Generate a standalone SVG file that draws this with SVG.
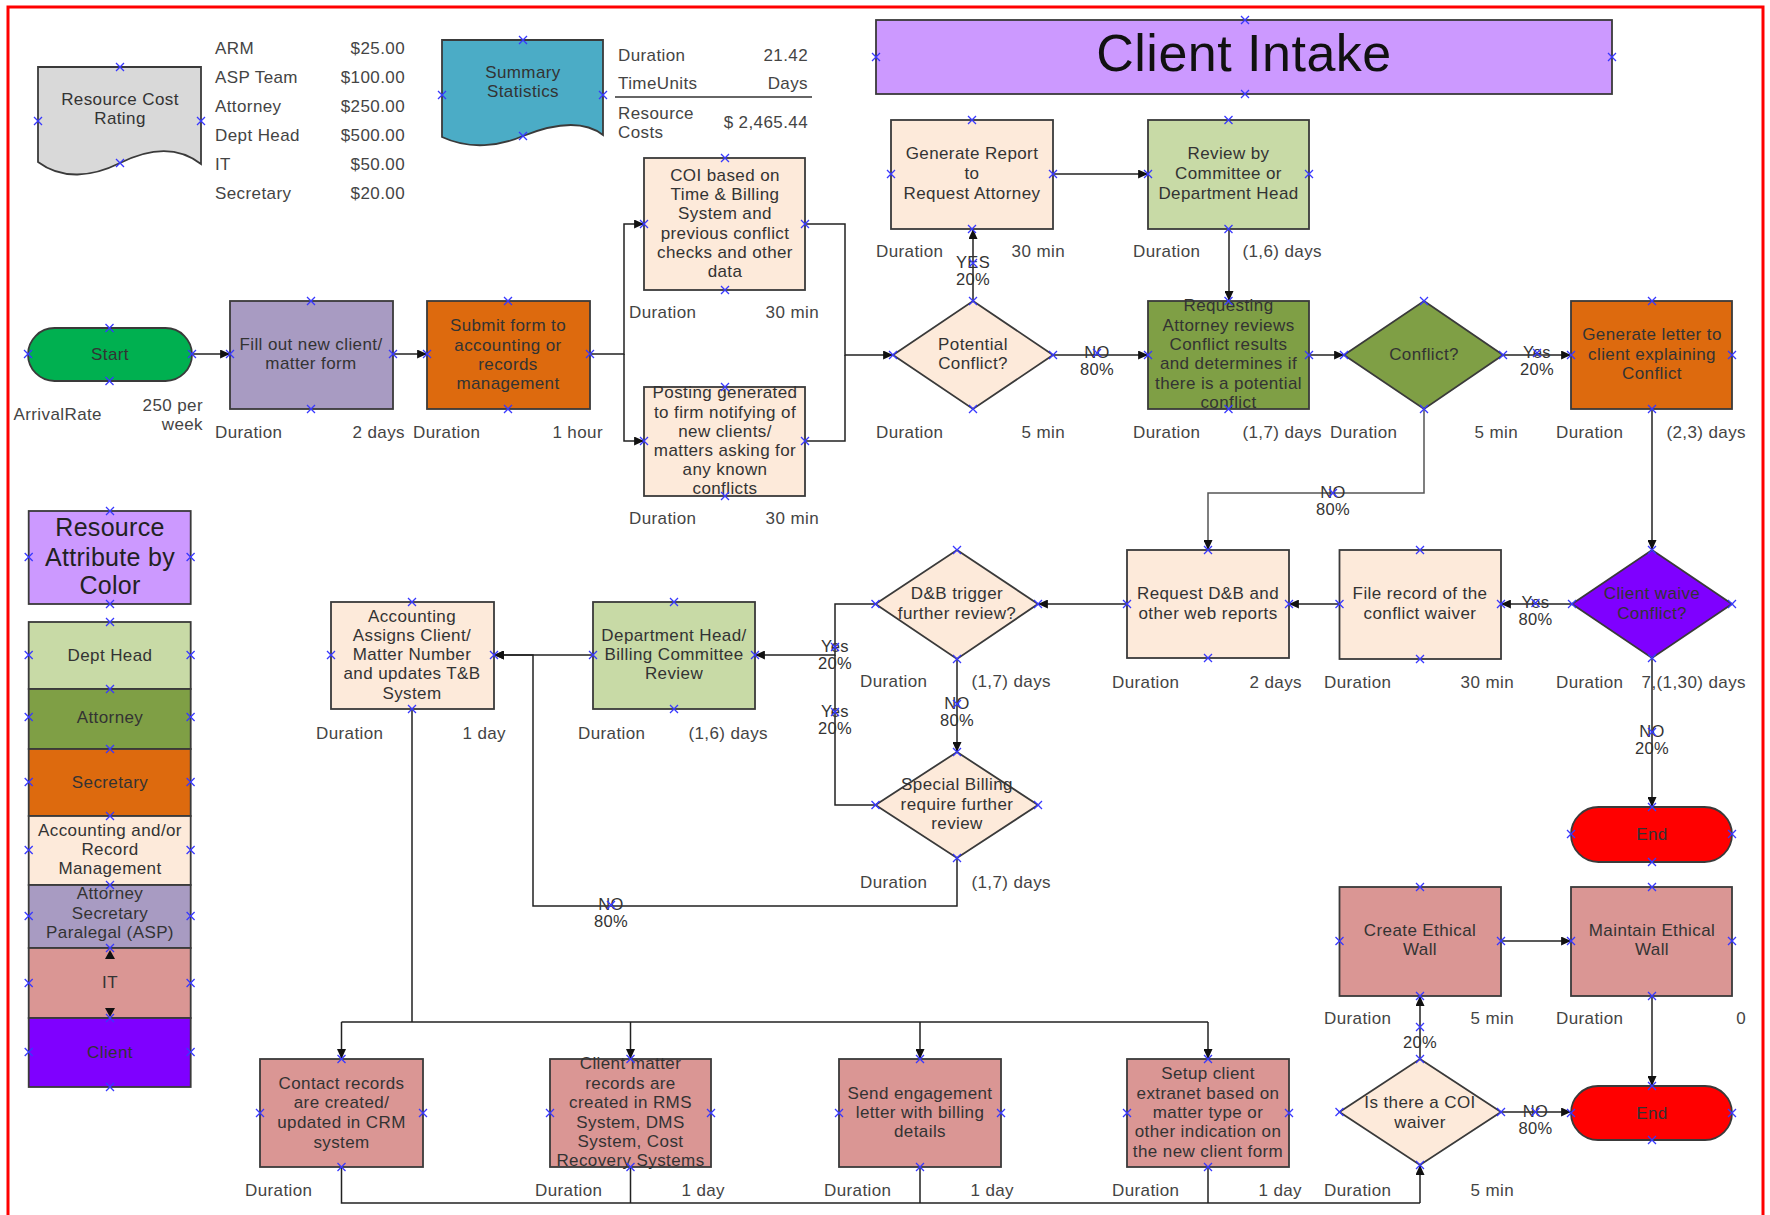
<svg xmlns="http://www.w3.org/2000/svg" xmlns:xlink="http://www.w3.org/1999/xlink" width="1770" height="1215" viewBox="0 0 1770 1215">
<defs>
<style>
.n{stroke:#3a3a3a;stroke-width:1.8}
.t{font-family:"Liberation Sans",Arial,sans-serif;font-size:17px;fill:#333;text-anchor:middle;letter-spacing:0.4px}
.l{font-family:"Liberation Sans",Arial,sans-serif;font-size:17px;fill:#444;letter-spacing:0.4px}
.r{text-anchor:end}
.big{font-size:25px;letter-spacing:0.3px;fill:#222}
.cl{font-size:16.5px;letter-spacing:0.3px}
.c{fill:none;stroke:#222;stroke-width:1.5}
.a{marker-end:url(#ah)}
.mk{fill:none;stroke:#3838ff;stroke-width:1.3}
</style>
<marker id="ah" viewBox="0 0 11 10" refX="11" refY="5" markerWidth="11" markerHeight="9" markerUnits="userSpaceOnUse" orient="auto"><path d="M0,0L11,5L0,10z" fill="#111"/></marker>
<g id="x"><path class="mk" d="M-4,-4L4,4M-4,4L4,-4"/></g>
</defs>
<rect x="0" y="0" width="1770" height="1215" fill="#fff"/>
<rect x="8" y="7" width="1755" height="1220" fill="none" stroke="#ff0000" stroke-width="3"/>

<g id="title">
<rect class="n" x="876" y="20" width="736" height="74" fill="#CC99FF"/>
<text class="t" x="1244" y="71" style="font-size:52px;letter-spacing:0.5px;fill:#111">Client Intake</text>
</g>

<g id="resource-cost-rating">
<path class="n" fill="#D9D9D9" d="M38,67H201V164C178,146 150,148 120,163C92,177 62,180 38,162Z"/>
<text class="t"><tspan x="120" y="105">Resource Cost</tspan><tspan x="120" y="124">Rating</tspan></text>
</g>

<g id="cost-table">
<text class="l" x="215" y="53.5">ARM</text><text class="l r" x="405" y="53.5">$25.00</text>
<text class="l" x="215" y="82.5">ASP Team</text><text class="l r" x="405" y="82.5">$100.00</text>
<text class="l" x="215" y="111.5">Attorney</text><text class="l r" x="405" y="111.5">$250.00</text>
<text class="l" x="215" y="140.5">Dept Head</text><text class="l r" x="405" y="140.5">$500.00</text>
<text class="l" x="215" y="169.5">IT</text><text class="l r" x="405" y="169.5">$50.00</text>
<text class="l" x="215" y="198.5">Secretary</text><text class="l r" x="405" y="198.5">$20.00</text>
</g>

<g id="summary-statistics">
<path class="n" fill="#4BACC6" d="M442,40H603V135C585,121 558,122 523,136C500,146 470,150 442,137Z"/>
<text class="t"><tspan x="523" y="78">Summary</tspan><tspan x="523" y="97">Statistics</tspan></text>
</g>

<g id="summary-table">
<text class="l" x="618" y="61">Duration</text><text class="l r" x="808" y="61">21.42</text>
<text class="l" x="618" y="89">TimeUnits</text><text class="l r" x="808" y="89">Days</text>
<line x1="615" y1="97" x2="812" y2="97" stroke="#333" stroke-width="1.5"/>
<text class="l"><tspan x="618" y="119">Resource</tspan><tspan x="618" y="138">Costs</tspan></text>
<text class="l r" x="808" y="128">$ 2,465.44</text>
</g>

<g id="start">
<rect class="n" x="28" y="328" width="164" height="53" rx="26.5" fill="#00B050"/>
<text class="t" x="110" y="360">Start</text>
<text class="l" x="13.5" y="420">ArrivalRate</text>
<text class="l r"><tspan x="203" y="411">250 per</tspan><tspan x="203" y="430">week</tspan></text>
</g>

<g id="fill-out-form">
<rect class="n" x="230" y="301" width="163" height="108" fill="#A89BC2"/>
<text class="t"><tspan x="311" y="350">Fill out new client/</tspan><tspan x="311" y="369">matter form</tspan></text>
<text class="l" x="215" y="438">Duration</text><text class="l r" x="405" y="438">2 days</text>
</g>

<g id="submit-form">
<rect class="n" x="427" y="301" width="163" height="108" fill="#DD6A0E"/>
<text class="t"><tspan x="508" y="331">Submit form to</tspan><tspan x="508" y="351">accounting or</tspan><tspan x="508" y="370">records</tspan><tspan x="508" y="389">management</tspan></text>
<text class="l" x="413" y="438">Duration</text><text class="l r" x="603" y="438">1 hour</text>
</g>

<g id="coi-based">
<rect class="n" x="644" y="158" width="161" height="132" fill="#FDEADA"/>
<text class="t"><tspan x="725" y="181">COI based on</tspan><tspan x="725" y="200">Time &amp; Billing</tspan><tspan x="725" y="219">System and</tspan><tspan x="725" y="239">previous conflict</tspan><tspan x="725" y="258">checks and other</tspan><tspan x="725" y="277">data</tspan></text>
<text class="l" x="629" y="318">Duration</text><text class="l r" x="819" y="318">30 min</text>
</g>

<g id="posting-generated">
<rect class="n" x="644" y="387" width="161" height="109" fill="#FDEADA"/>
<text class="t"><tspan x="725" y="398">Posting generated</tspan><tspan x="725" y="418">to firm notifying of</tspan><tspan x="725" y="437">new clients/</tspan><tspan x="725" y="456">matters asking for</tspan><tspan x="725" y="475">any known</tspan><tspan x="725" y="494">conflicts</tspan></text>
<text class="l" x="629" y="524">Duration</text><text class="l r" x="819" y="524">30 min</text>
</g>

<g id="generate-report">
<rect class="n" x="891" y="120" width="162" height="109" fill="#FDEADA"/>
<text class="t"><tspan x="972" y="159">Generate Report</tspan><tspan x="972" y="179">to</tspan><tspan x="972" y="199">Request Attorney</tspan></text>
<text class="l" x="876" y="257">Duration</text><text class="l r" x="1065" y="257">30 min</text>
</g>

<g id="potential-conflict">
<polygon class="n" points="973,301 1053,355 973,409 893,355" fill="#FDEADA"/>
<text class="t"><tspan x="973" y="350">Potential</tspan><tspan x="973" y="369">Conflict?</tspan></text>
<text class="l" x="876" y="438">Duration</text><text class="l r" x="1065" y="438">5 min</text>
</g>

<g id="review-committee">
<rect class="n" x="1148" y="120" width="161" height="109" fill="#C8DAA6"/>
<text class="t"><tspan x="1228.5" y="159">Review by</tspan><tspan x="1228.5" y="179">Committee or</tspan><tspan x="1228.5" y="199">Department Head</tspan></text>
<text class="l" x="1133" y="257">Duration</text><text class="l r" x="1322" y="257">(1,6) days</text>
</g>

<g id="requesting-attorney">
<rect class="n" x="1148" y="301" width="161" height="108" fill="#7F9F45"/>
<text class="t"><tspan x="1228.5" y="311">Requesting</tspan><tspan x="1228.5" y="331">Attorney reviews</tspan><tspan x="1228.5" y="350">Conflict  results</tspan><tspan x="1228.5" y="369">and determines if</tspan><tspan x="1228.5" y="389">there is a potential</tspan><tspan x="1228.5" y="408">conflict</tspan></text>
<text class="l" x="1133" y="438">Duration</text><text class="l r" x="1322" y="438">(1,7) days</text>
</g>

<g id="conflict">
<polygon class="n" points="1424,301 1503,355 1424,409 1344,355" fill="#7F9F45"/>
<text class="t" x="1424" y="360">Conflict?</text>
<text class="l" x="1330" y="438">Duration</text><text class="l r" x="1518" y="438">5 min</text>
</g>

<g id="generate-letter">
<rect class="n" x="1571" y="301" width="161" height="108" fill="#DD6A0E"/>
<text class="t"><tspan x="1652" y="340">Generate letter to</tspan><tspan x="1652" y="360">client explaining</tspan><tspan x="1652" y="379">Conflict</tspan></text>
<text class="l" x="1556" y="438">Duration</text><text class="l r" x="1746" y="438">(2,3) days</text>
</g>

<g id="client-waive">
<polygon class="n" points="1652,550 1732,604 1652,658 1572,604" fill="#7F00FF"/>
<text class="t"><tspan x="1652" y="599">Client waive</tspan><tspan x="1652" y="619">Conflict?</tspan></text>
<text class="l" x="1556" y="688">Duration</text><text class="l r" x="1746" y="688">7,(1,30) days</text>
</g>

<g id="file-record">
<rect class="n" x="1339.5" y="550" width="161.5" height="109" fill="#FDEADA"/>
<text class="t"><tspan x="1420" y="599">File record of the</tspan><tspan x="1420" y="619">conflict waiver</tspan></text>
<text class="l" x="1324" y="688">Duration</text><text class="l r" x="1514" y="688">30 min</text>
</g>

<g id="request-db">
<rect class="n" x="1127" y="550" width="162" height="108" fill="#FDEADA"/>
<text class="t"><tspan x="1208" y="599">Request D&amp;B and</tspan><tspan x="1208" y="619">other web reports</tspan></text>
<text class="l" x="1112" y="688">Duration</text><text class="l r" x="1302" y="688">2 days</text>
</g>

<g id="db-trigger">
<polygon class="n" points="957,550 1038,604 957,659 875.5,604" fill="#FDEADA"/>
<text class="t"><tspan x="957" y="599">D&amp;B trigger</tspan><tspan x="957" y="619">further review?</tspan></text>
<text class="l" x="860" y="687">Duration</text><text class="l r" x="1051" y="687">(1,7) days</text>
</g>

<g id="special-billing">
<polygon class="n" points="957,752 1038,805 957,858 875.5,805" fill="#FDEADA"/>
<text class="t"><tspan x="957" y="790">Special Billing</tspan><tspan x="957" y="810">require further</tspan><tspan x="957" y="829">review</tspan></text>
<text class="l" x="860" y="888">Duration</text><text class="l r" x="1051" y="888">(1,7) days</text>
</g>

<g id="dept-head-review">
<rect class="n" x="593" y="602" width="162" height="107" fill="#C8DAA6"/>
<text class="t"><tspan x="674" y="641">Department Head/</tspan><tspan x="674" y="660">Billing Committee</tspan><tspan x="674" y="679">Review</tspan></text>
<text class="l" x="578" y="739">Duration</text><text class="l r" x="768" y="739">(1,6) days</text>
</g>

<g id="accounting-assigns">
<rect class="n" x="331" y="602" width="163" height="107" fill="#FDEADA"/>
<text class="t"><tspan x="412" y="622">Accounting</tspan><tspan x="412" y="641">Assigns Client/</tspan><tspan x="412" y="660">Matter Number</tspan><tspan x="412" y="679">and updates T&amp;B</tspan><tspan x="412" y="699">System</tspan></text>
<text class="l" x="316" y="739">Duration</text><text class="l r" x="506" y="739">1 day</text>
</g>

<g id="contact-records">
<rect class="n" x="260" y="1059" width="163" height="108" fill="#DA9694"/>
<text class="t"><tspan x="341.5" y="1089">Contact records</tspan><tspan x="341.5" y="1108">are created/</tspan><tspan x="341.5" y="1128">updated in CRM</tspan><tspan x="341.5" y="1148">system</tspan></text>
<text class="l" x="245" y="1196">Duration</text>
</g>

<g id="client-matter-records">
<rect class="n" x="550" y="1059" width="161" height="108" fill="#DA9694"/>
<text class="t"><tspan x="630.5" y="1069">Client matter</tspan><tspan x="630.5" y="1089">records are</tspan><tspan x="630.5" y="1108">created in RMS</tspan><tspan x="630.5" y="1128">System, DMS</tspan><tspan x="630.5" y="1147">System, Cost</tspan><tspan x="630.5" y="1166">Recovery Systems</tspan></text>
<text class="l" x="535" y="1196">Duration</text><text class="l r" x="725" y="1196">1 day</text>
</g>

<g id="send-engagement">
<rect class="n" x="839" y="1059" width="162" height="108" fill="#DA9694"/>
<text class="t"><tspan x="920" y="1099">Send engagement</tspan><tspan x="920" y="1118">letter with billing</tspan><tspan x="920" y="1137">details</tspan></text>
<text class="l" x="824" y="1196">Duration</text><text class="l r" x="1014" y="1196">1 day</text>
</g>

<g id="setup-extranet">
<rect class="n" x="1127" y="1059" width="162" height="108" fill="#DA9694"/>
<text class="t"><tspan x="1208" y="1079">Setup client</tspan><tspan x="1208" y="1099">extranet based on</tspan><tspan x="1208" y="1118">matter type or</tspan><tspan x="1208" y="1137">other indication on</tspan><tspan x="1208" y="1157">the new client form</tspan></text>
<text class="l" x="1112" y="1196">Duration</text><text class="l r" x="1302" y="1196">1 day</text>
</g>

<g id="coi-waiver">
<polygon class="n" points="1420,1059 1501,1112 1420,1165 1339.5,1112" fill="#FDEADA"/>
<text class="t"><tspan x="1420" y="1108">Is there a COI</tspan><tspan x="1420" y="1128">waiver</tspan></text>
<text class="l" x="1324" y="1196">Duration</text><text class="l r" x="1514" y="1196">5 min</text>
</g>

<g id="create-ethical-wall">
<rect class="n" x="1339.5" y="887" width="161.5" height="109" fill="#DA9694"/>
<text class="t"><tspan x="1420" y="936">Create Ethical</tspan><tspan x="1420" y="955">Wall</tspan></text>
<text class="l" x="1324" y="1024">Duration</text><text class="l r" x="1514" y="1024">5 min</text>
</g>

<g id="maintain-ethical-wall">
<rect class="n" x="1571" y="887" width="161" height="109" fill="#DA9694"/>
<text class="t"><tspan x="1652" y="936">Maintain Ethical</tspan><tspan x="1652" y="955">Wall</tspan></text>
<text class="l" x="1556" y="1024">Duration</text><text class="l r" x="1746" y="1024">0</text>
</g>

<g id="end-upper">
<rect class="n" x="1571" y="807" width="161" height="55" rx="27.5" fill="#FF0000"/>
<text class="t" x="1652" y="840">End</text>
</g>

<g id="end-lower">
<rect class="n" x="1571" y="1086" width="161" height="54" rx="27" fill="#FF0000"/>
<text class="t" x="1652" y="1119">End</text>
</g>

<g id="legend">
<rect class="n" x="28.7" y="511" width="162" height="93" fill="#CC99FF"/>
<text class="t big"><tspan x="110" y="536">Resource</tspan><tspan x="110" y="566">Attribute by</tspan><tspan x="110" y="594">Color</tspan></text>
<rect class="n" x="28.7" y="622" width="162" height="67" fill="#C8DAA6"/>
<text class="t" x="110" y="661">Dept Head</text>
<rect class="n" x="28.7" y="689" width="162" height="60" fill="#7F9F45"/>
<text class="t" x="110" y="723">Attorney</text>
<rect class="n" x="28.7" y="749" width="162" height="67" fill="#DD6A0E"/>
<text class="t" x="110" y="788">Secretary</text>
<rect class="n" x="28.7" y="816" width="162" height="69" fill="#FDEADA"/>
<text class="t"><tspan x="110" y="836">Accounting and/or</tspan><tspan x="110" y="855">Record</tspan><tspan x="110" y="874">Management</tspan></text>
<rect class="n" x="28.7" y="885" width="162" height="63" fill="#A89BC2"/>
<text class="t"><tspan x="110" y="899">Attorney</tspan><tspan x="110" y="919">Secretary</tspan><tspan x="110" y="938">Paralegal (ASP)</tspan></text>
<rect class="n" x="28.7" y="948" width="162" height="70" fill="#DA9694"/>
<text class="t" x="110" y="988">IT</text>
<rect class="n" x="28.7" y="1018" width="162" height="69" fill="#7F00FF"/>
<text class="t" x="110" y="1058">Client</text>
</g>

<g id="connectors">
<path class="c a" d="M192,354H230"/>
<path class="c a" d="M393,354H427"/>
<path class="c a" d="M590,354H624V224H644"/>
<path class="c a" d="M624,354V441H644"/>
<path class="c a" d="M805,224H845V355H893"/>
<path class="c" d="M805,441H845V355"/>
<path class="c a" d="M973,301V229"/>
<path class="c a" d="M1053,355H1148"/>
<path class="c a" d="M1053,174H1148"/>
<path class="c a" d="M1229,229V301"/>
<path class="c a" d="M1309,355H1344"/>
<path class="c a" d="M1503,355H1571"/>
<path class="c a" d="M1424,409V493H1208V550" style="stroke:#555"/>
<path class="c a" d="M1652,409V550"/>
<path class="c a" d="M1572,604H1501"/>
<path class="c a" d="M1339.5,604H1289"/>
<path class="c a" d="M1127,604H1038"/>
<path class="c a" d="M875.5,604H835V655H755"/>
<path class="c" d="M875.5,805H835V655"/>
<path class="c a" d="M957,659V752"/>
<path class="c a" d="M957,858V906H533V655H494"/>
<path class="c a" d="M593,655H494"/>
<path class="c" d="M412,709V1022M341.5,1022H1208"/>
<path class="c a" d="M341.5,1022V1059"/>
<path class="c a" d="M630.5,1022V1059"/>
<path class="c a" d="M920,1022V1059"/>
<path class="c a" d="M1208,1022V1059"/>
<path class="c" d="M341.5,1167V1203H1420M630.5,1167V1203M920,1167V1203M1208,1167V1203"/>
<path class="c a" d="M1420,1203V1165"/>
<path class="c a" d="M1652,658V807"/>
<path class="c a" d="M1420,1059V996"/>
<path class="c a" d="M1501,941H1571"/>
<path class="c a" d="M1652,996V1086"/>
<path class="c a" d="M1501,1112H1571"/>
<path d="M105,959L115,959L110,950Z M105,1008L115,1008L110,1017Z" fill="#111"/>
<text class="t cl"><tspan x="973" y="268">YES</tspan><tspan x="973" y="285">20%</tspan></text>
<text class="t cl"><tspan x="1097" y="358">NO</tspan><tspan x="1097" y="375">80%</tspan></text>
<text class="t cl"><tspan x="1537" y="358">Yes</tspan><tspan x="1537" y="375">20%</tspan></text>
<text class="t cl"><tspan x="1333" y="498">NO</tspan><tspan x="1333" y="515">80%</tspan></text>
<text class="t cl"><tspan x="1535.5" y="608">Yes</tspan><tspan x="1535.5" y="625">80%</tspan></text>
<text class="t cl"><tspan x="835" y="652">Yes</tspan><tspan x="835" y="669">20%</tspan></text>
<text class="t cl"><tspan x="835" y="717">Yes</tspan><tspan x="835" y="734">20%</tspan></text>
<text class="t cl"><tspan x="957" y="709">NO</tspan><tspan x="957" y="726">80%</tspan></text>
<text class="t cl"><tspan x="611" y="910">NO</tspan><tspan x="611" y="927">80%</tspan></text>
<text class="t cl"><tspan x="1652" y="737">NO</tspan><tspan x="1652" y="754">20%</tspan></text>
<text class="t cl" x="1420" y="1048">20%</text>
<text class="t cl"><tspan x="1535.5" y="1117">NO</tspan><tspan x="1535.5" y="1134">80%</tspan></text>
</g>

<g id="connection-points">
<use href="#x" x="120" y="67"/><use href="#x" x="38" y="121"/><use href="#x" x="201" y="121"/><use href="#x" x="120" y="163"/>
<use href="#x" x="523" y="40"/><use href="#x" x="442" y="95"/><use href="#x" x="603" y="95"/><use href="#x" x="523" y="136"/>
<use href="#x" x="1245" y="20"/><use href="#x" x="876" y="57"/><use href="#x" x="1612" y="57"/><use href="#x" x="1245" y="94"/>
<use href="#x" x="28" y="354"/><use href="#x" x="192" y="354"/><use href="#x" x="109.5" y="328"/><use href="#x" x="109.5" y="381"/>
<use href="#x" x="230" y="354"/><use href="#x" x="393" y="354"/><use href="#x" x="311" y="301"/><use href="#x" x="311" y="409"/>
<use href="#x" x="427" y="354"/><use href="#x" x="590" y="354"/><use href="#x" x="508" y="301"/><use href="#x" x="508" y="409"/>
<use href="#x" x="644" y="224"/><use href="#x" x="805" y="224"/><use href="#x" x="725" y="158"/><use href="#x" x="725" y="290"/>
<use href="#x" x="644" y="441"/><use href="#x" x="805" y="441"/><use href="#x" x="725" y="387"/><use href="#x" x="725" y="496"/>
<use href="#x" x="891" y="174"/><use href="#x" x="1053" y="174"/><use href="#x" x="972" y="120"/><use href="#x" x="972" y="229"/>
<use href="#x" x="893" y="355"/><use href="#x" x="1053" y="355"/><use href="#x" x="973" y="301"/><use href="#x" x="973" y="409"/>
<use href="#x" x="1148" y="174"/><use href="#x" x="1309" y="174"/><use href="#x" x="1228.5" y="120"/><use href="#x" x="1228.5" y="229"/>
<use href="#x" x="1148" y="355"/><use href="#x" x="1309" y="355"/><use href="#x" x="1228.5" y="301"/><use href="#x" x="1228.5" y="409"/>
<use href="#x" x="1344" y="355"/><use href="#x" x="1503" y="355"/><use href="#x" x="1424" y="301"/><use href="#x" x="1424" y="409"/>
<use href="#x" x="1571" y="355"/><use href="#x" x="1732" y="355"/><use href="#x" x="1652" y="301"/><use href="#x" x="1652" y="409"/>
<use href="#x" x="1572" y="604"/><use href="#x" x="1732" y="604"/><use href="#x" x="1652" y="550"/><use href="#x" x="1652" y="658"/>
<use href="#x" x="1339.5" y="604"/><use href="#x" x="1501" y="604"/><use href="#x" x="1420" y="550"/><use href="#x" x="1420" y="659"/>
<use href="#x" x="1127" y="604"/><use href="#x" x="1289" y="604"/><use href="#x" x="1208" y="550"/><use href="#x" x="1208" y="658"/>
<use href="#x" x="875.5" y="604"/><use href="#x" x="1038" y="604"/><use href="#x" x="957" y="550"/><use href="#x" x="957" y="659"/>
<use href="#x" x="875.5" y="805"/><use href="#x" x="1038" y="805"/><use href="#x" x="957" y="752"/><use href="#x" x="957" y="858"/>
<use href="#x" x="593" y="655"/><use href="#x" x="755" y="655"/><use href="#x" x="674" y="602"/><use href="#x" x="674" y="709"/>
<use href="#x" x="331" y="655"/><use href="#x" x="494" y="655"/><use href="#x" x="412" y="602"/><use href="#x" x="412" y="709"/>
<use href="#x" x="260" y="1113"/><use href="#x" x="423" y="1113"/><use href="#x" x="341.5" y="1059"/><use href="#x" x="341.5" y="1167"/>
<use href="#x" x="550" y="1113"/><use href="#x" x="711" y="1113"/><use href="#x" x="630.5" y="1059"/><use href="#x" x="630.5" y="1167"/>
<use href="#x" x="839" y="1113"/><use href="#x" x="1001" y="1113"/><use href="#x" x="920" y="1059"/><use href="#x" x="920" y="1167"/>
<use href="#x" x="1127" y="1113"/><use href="#x" x="1289" y="1113"/><use href="#x" x="1208" y="1059"/><use href="#x" x="1208" y="1167"/>
<use href="#x" x="1339.5" y="1112"/><use href="#x" x="1501" y="1112"/><use href="#x" x="1420" y="1059"/><use href="#x" x="1420" y="1165"/>
<use href="#x" x="1571" y="1113"/><use href="#x" x="1732" y="1113"/><use href="#x" x="1652" y="1086"/><use href="#x" x="1652" y="1140"/>
<use href="#x" x="1339.5" y="941"/><use href="#x" x="1501" y="941"/><use href="#x" x="1420" y="887"/><use href="#x" x="1420" y="996"/>
<use href="#x" x="1571" y="941"/><use href="#x" x="1732" y="941"/><use href="#x" x="1652" y="887"/><use href="#x" x="1652" y="996"/>
<use href="#x" x="1571" y="834"/><use href="#x" x="1732" y="834"/><use href="#x" x="1652" y="807"/><use href="#x" x="1652" y="862"/>
<use href="#x" x="28.7" y="557"/><use href="#x" x="190.6" y="557"/><use href="#x" x="110" y="511"/><use href="#x" x="110" y="604"/>
<use href="#x" x="28.7" y="655"/><use href="#x" x="190.6" y="655"/><use href="#x" x="110" y="622"/><use href="#x" x="110" y="689"/>
<use href="#x" x="28.7" y="717"/><use href="#x" x="190.6" y="717"/><use href="#x" x="110" y="749"/>
<use href="#x" x="28.7" y="782"/><use href="#x" x="190.6" y="782"/><use href="#x" x="110" y="816"/>
<use href="#x" x="28.7" y="850"/><use href="#x" x="190.6" y="850"/><use href="#x" x="110" y="885"/>
<use href="#x" x="28.7" y="916"/><use href="#x" x="190.6" y="916"/><use href="#x" x="110" y="948"/>
<use href="#x" x="28.7" y="983"/><use href="#x" x="190.6" y="983"/><use href="#x" x="110" y="1018"/>
<use href="#x" x="28.7" y="1052"/><use href="#x" x="190.6" y="1052"/><use href="#x" x="110" y="1087"/>
<use href="#x" x="973" y="263"/><use href="#x" x="1097" y="353"/><use href="#x" x="1537" y="353"/><use href="#x" x="1333" y="493"/>
<use href="#x" x="1535.5" y="603"/><use href="#x" x="835" y="647"/><use href="#x" x="835" y="712"/><use href="#x" x="957" y="704"/>
<use href="#x" x="611" y="905"/><use href="#x" x="1652" y="732"/><use href="#x" x="1420" y="1027"/><use href="#x" x="1535.5" y="1112"/>
</g>
</svg>
